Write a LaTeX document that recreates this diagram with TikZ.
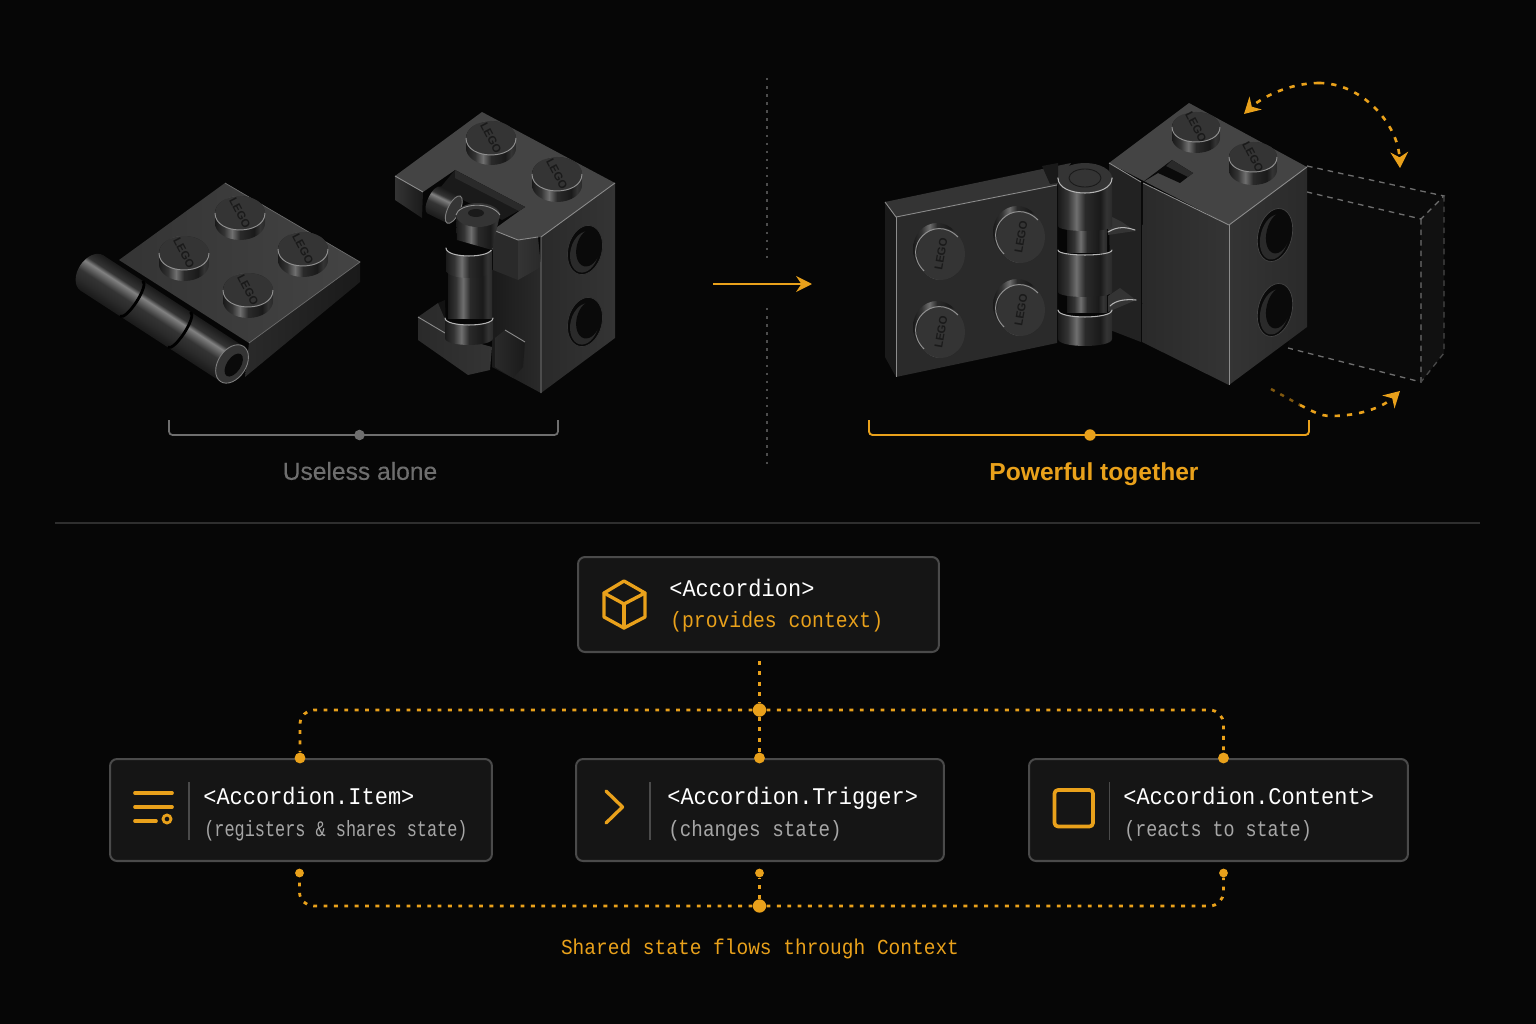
\documentclass[tikz,border=0pt]{standalone}
\usepackage{fontspec}
\usepackage{graphicx}
\setsansfont{Liberation Sans}
\setmonofont{Liberation Mono}
\usetikzlibrary{arrows.meta}
\definecolor{pagedark}{HTML}{060606}
\definecolor{amberline}{HTML}{E9A11B}
\definecolor{cardfill}{HTML}{151515}
\definecolor{cardedge}{HTML}{4A4A4A}
\definecolor{muteline}{HTML}{6E6E6E}
\definecolor{ruleline}{HTML}{2E2E2E}
\definecolor{subgrey}{HTML}{A6A6A6}
\definecolor{faceA}{HTML}{444444}
\definecolor{faceB}{HTML}{343434}
\definecolor{faceC}{HTML}{2A2A2A}
\definecolor{faceD}{HTML}{1A1A1A}
\definecolor{glint}{HTML}{B4B4B4}
\definecolor{hollow}{HTML}{0A0A0A}
\pgfdeclareverticalshading{barrelmetal}{100bp}{color(0bp)=(faceD);color(25bp)=(faceD);color(36bp)=(faceC);color(46bp)=(faceB);color(58bp)=(glint!72!black);color(63bp)=(faceB);color(75bp)=(faceD);color(100bp)=(faceD)}
\pgfdeclarehorizontalshading{studmetal}{100bp}{color(0bp)=(faceD);color(25bp)=(faceD);color(34bp)=(faceB);color(42bp)=(glint!62!black);color(50bp)=(faceC);color(64bp)=(faceD);color(70bp)=(faceB);color(75bp)=(faceC);color(100bp)=(faceC)}
\tikzset{
	cardbox/.style={draw=cardedge,fill=cardfill,line width=1.15pt,rounded corners=4pt,inner sep=0pt},
	tagtext/.style={anchor=base west,inner sep=0pt,text=white,font=\fontsize{13.6}{15}\ttfamily},
	subtext/.style={anchor=base west,inner sep=0pt,text=subgrey,font=\fontsize{12.6}{14}\ttfamily},
	flowline/.style={draw=amberline,line width=1.6pt,dash pattern=on 2.2pt off 3.7pt},
	junction/.style={circle,fill=amberline,inner sep=0pt,minimum size=6.2pt},
	hubdot/.style={circle,fill=amberline,inner sep=0pt,minimum size=7.6pt},
	tickdot/.style={circle,fill=amberline,inner sep=0pt,minimum size=5pt},
	iconline/.style={draw=amberline,line width=1.9pt,line cap=round,line join=round},
	cardrule/.style={draw=cardedge,line width=0.8pt},
	orbitarrow/.style={draw=amberline,line width=1.5pt,dash pattern=on 3pt off 4pt,-{Stealth[length=9pt,width=10pt]}},
	ghostline/.style={draw=muteline,line width=0.75pt,dash pattern=on 3.2pt off 2.8pt},
	legotext/.style={inner sep=0pt,text=faceD,font=\fontsize{6.5}{7}\sffamily\bfseries},
	bodyedge/.style={draw=glint!78!black,line width=0.5pt,line join=round},
	ringedge/.style={draw=glint,line width=0.6pt,line cap=round}
}
\newcommand{\stud}[9]{%
	\foreach \t in {0,0.1,...,1.01} {
		\shade[shading=studmetal] ({#2+\t*#6},{#3+\t*#7}) ellipse [x radius=#4,y radius=#5];
	}
	\fill[faceB] (#2,#3) ellipse [x radius=#4,y radius=#5];
	\begin{scope}[shift={(#2,#3)},rotate=#9]
		\draw[glint!80!black,line width=0.55pt] ({-#4},0) .. controls ({-#4},{1.33*#5}) and (#4,{1.33*#5}) .. (#4,0);
	\end{scope}
	\node[legotext,rotate=#8] (#1) at (#2,#3) {LEGO};
}
\newcommand{\hingebarrel}[6]{%
	\begin{scope}[transform canvas={shift={(#1,#2)},rotate=#3}]
		\shade[shading=barrelmetal] (0,0) ellipse [x radius=#6,y radius=#5];
		\shade[shading=barrelmetal] (0,{-#5}) -- (#4,{-#5}) -- (#4,#5) -- (0,#5) -- cycle;
		\fill[faceB] (#4,0) ellipse [x radius=#6,y radius=#5];
		\draw[glint!70!black,line width=0.5pt] (#4,0) ellipse [x radius=#6,y radius=#5];
	\end{scope}
}
\newcommand{\barrelseam}[6]{%
	\begin{scope}[transform canvas={shift={(#1,#2)},rotate=#3}]
		\draw[black,line width=1.6pt] (#4,{-#5}) .. controls ({#4+1.33*#6},{-#5}) and ({#4+1.33*#6},#5) .. (#4,#5);
	\end{scope}
}
\newcommand{\knuckle}[5]{%
	\shade[shading=studmetal] ({#1-#4},#2) .. controls ({#1-#4},{#2+1.33*#5}) and ({#1+#4},{#2+1.33*#5}) .. ({#1+#4},#2) -- ({#1+#4},#3) .. controls ({#1+#4},{#3+1.33*#5}) and ({#1-#4},{#3+1.33*#5}) .. ({#1-#4},#3) -- cycle;
	\draw[ringedge] ({#1-#4},#2) .. controls ({#1-#4},{#2+1.33*#5}) and ({#1+#4},{#2+1.33*#5}) .. ({#1+#4},#2);
}
\newcommand{\brickhole}[5]{%
	\fill[hollow,rotate around={-14:(#1,#2)}] (#1,#2) ellipse [x radius=#3,y radius=#4];
	\fill[faceC,rotate around={-14:(#1,#2)}] (#1,#2+2) ellipse [x radius={#3-3},y radius={#4-4}];
	\fill[hollow,rotate around={-14:(#1,#2)}] (#1+3,#2-3) ellipse [x radius={#3-5},y radius={#4-6}];
	\draw[#5,line width=0.4pt,rotate around={-14:(#1,#2)}] (#1,#2) ellipse [x radius=#3,y radius=#4];
}
\begin{document}
\begin{tikzpicture}[x=0.02cm,y=-0.02cm]
	\fill[pagedark] (0,0) rectangle (1536,1024);
	\useasboundingbox (0,0) rectangle (1536,1024);

	% plate on the left
	\shade[left color=faceC,right color=faceD] (249,343) -- (360,262) -- (360,282) -- (245,377) -- cycle;
	\shade[left color=faceB,right color=faceA] (225,183) -- (360,262) -- (249,343) -- (119,260) -- cycle;
	\draw[glint!60!black,line width=0.4pt] (249,343) -- (360,262) -- (225,183);
	\hingebarrel{92}{273}{-33}{167}{21}{14}
	\barrelseam{92}{273}{-33}{47}{21}{6}
	\barrelseam{92}{273}{-33}{104}{21}{6}
	\begin{scope}[transform canvas={shift={(92,273)},rotate=-33}]
		\fill[hollow] (169,0) ellipse [x radius=7,y radius=13];
	\end{scope}
	\stud{platestudA}{240}{213}{25}{17}{0}{10}{-62}{0}
	\stud{platestudB}{184}{253}{25}{17}{0}{11}{-62}{0}
	\stud{platestudC}{303}{249}{25}{17}{0}{11}{-62}{0}
	\stud{platestudD}{248}{290}{25}{17}{0}{11}{-62}{0}

	% brick on the left
	\shade[left color=faceC,right color=faceB] (541,237) -- (615,183) -- (615,338) -- (541,393) -- cycle;
	\brickhole{585}{250}{17}{25}{faceB}
	\brickhole{585}{322}{17}{25}{faceB}
	\shade[left color=faceD,right color=faceC] (492,270) -- (541,262) -- (541,393) -- (513,378) -- (492,367) -- cycle;
	\fill[faceA] (482,112) -- (615,183) -- (541,237) -- (518,240) -- (493,230) -- (525,207) -- (455,170) -- (423,192) -- (395,176) -- cycle;
	\fill[faceD] (455,170) -- (525,207) -- (502,220) -- (440,188) -- cycle;
	\fill[faceC] (455,170) -- (525,207) -- (519,211) -- (455,178) -- cycle;
	\shade[left color=faceB,right color=faceD] (395,176) -- (423,192) -- (422,218) -- (395,200) -- cycle;
	\fill[faceC] (493,230) -- (518,240) -- (518,280) -- (493,270) -- cycle;
	\shade[left color=faceB,right color=faceC] (518,240) -- (538,237) -- (541,267) -- (518,280) -- cycle;
	\fill[faceD!70!black] (438,303) -- (445,300) -- (446,332) -- (430,322) -- cycle;
	\shade[left color=faceC,right color=faceB] (418,317) -- (438,303) -- (452,336) -- (492,347) -- (490,370) -- (468,375) -- (418,340) -- cycle;
	\draw[bodyedge] (418,317) -- (445,333);
	\draw[bodyedge] (423,192) -- (395,176);
	\draw[bodyedge] (615,183) -- (541,237) -- (541,393);
	\draw[bodyedge] (493,230) -- (518,240) -- (538,237);
	\shade[left color=faceC,right color=faceD] (495,338) -- (505,330) -- (525,342) -- (523,367) -- (513,378) -- (495,367) -- cycle;
	\draw[bodyedge] (505,330) -- (525,342);
	\shade[shading=studmetal] (448,270) rectangle (492,318);
	\knuckle{469}{248}{270}{23}{8}
	\knuckle{469}{318}{338}{24}{7}
	\hingebarrel{434}{200}{-26}{22}{15}{6}
	\shade[shading=studmetal] (456,215) -- (500,215) -- (492,250) -- (457,240) -- cycle;
	\fill[faceB] (478,215) ellipse [x radius=22,y radius=12];
	\draw[glint!80!black,line width=0.5pt] (456,215) .. controls (458,204) and (490,200) .. (500,215);
	\fill[faceD] (476,213) ellipse [x radius=8,y radius=4];
	\stud{brickstudA}{491}{138}{25}{17}{0}{10}{-62}{0}
	\stud{brickstudB}{557}{174}{25}{17}{0}{11}{-62}{0}

	% ghost of the open position
	\fill[hollow] (1307,166) -- (1444,196) -- (1444,353) -- (1421,382) -- (1288,348) -- cycle;
	\fill[faceD!55!pagedark] (1421,219) -- (1444,196) -- (1444,353) -- (1421,382) -- cycle;
	\draw[ghostline] (1307,166) -- (1444,196) -- (1421,219) -- (1307,192);
	\draw[ghostline] (1421,219) -- (1421,382) -- (1288,348);
	\draw[ghostline,draw=muteline!65!black] (1444,196) -- (1444,353) -- (1421,382);

	% hinge on the right
	\fill[faceD] (885,202) -- (896,217) -- (896,377) -- (885,357) -- cycle;
	\fill[faceB] (885,202) -- (1071,163) -- (1057,185) -- (896,217) -- cycle;
	\fill[faceC] (896,217) -- (1057,185) -- (1057,343) -- (896,377) -- cycle;
	\draw[bodyedge] (885,202) -- (896,217) -- (1057,185);
	\draw[bodyedge] (896,217) -- (896,377);
	\stud{facestudA}{941}{254}{24}{26}{-4}{-5}{80}{-135}
	\stud{facestudB}{1021}{237}{24}{26}{-4}{-5}{80}{-135}
	\stud{facestudC}{941}{332}{24}{26}{-4}{-5}{80}{-135}
	\stud{facestudD}{1021}{310}{24}{26}{-4}{-5}{80}{-135}
	\fill[faceC!80!black] (1109,163) -- (1141,182) -- (1141,342) -- (1110,330) -- cycle;
	\shade[left color=faceC,right color=faceB] (1143,183) -- (1229,225) -- (1229,385) -- (1142,342) -- cycle;
	\shade[left color=faceB,right color=faceC] (1229,225) -- (1307,167) -- (1307,327) -- (1229,385) -- cycle;
	\fill[faceA] (1189,103) -- (1307,167) -- (1229,225) -- (1109,163) -- cycle;
	\fill[hollow] (1172,160) -- (1193,173) -- (1180,183) -- (1158,173) -- (1143,182) -- cycle;
	\fill[faceC] (1172,160) -- (1193,173) -- (1188,177) -- (1166,166) -- cycle;
	\draw[bodyedge] (1109,163) -- (1141,182);
	\draw[bodyedge] (1143,183) -- (1229,225) -- (1307,167);
	\draw[bodyedge] (1229,225) -- (1229,385);
	\brickhole{1275}{235}{17}{27}{faceA}
	\brickhole{1275}{310}{17}{27}{faceA}
	\stud{topstudA}{1196}{127}{24}{15}{0}{11}{-62}{0}
	\stud{topstudB}{1253}{157}{24}{15}{0}{13}{-62}{0}
	\fill[faceC!60!black] (1042,166) -- (1058,163) -- (1058,183) -- (1050,184) -- cycle;
	\fill[faceB] (1108,215) -- (1122,222) -- (1135,231) -- (1108,235) -- cycle;
	\draw[ringedge] (1108,232) .. controls (1118,226) and (1126,227) .. (1135,230);
	\fill[faceB] (1108,296) -- (1120,288) -- (1136,300) -- (1108,312) -- cycle;
	\draw[ringedge] (1110,306) .. controls (1116,300) and (1126,299) .. (1136,300);
	\shade[shading=studmetal] (1067,228) rectangle (1107,252);
	\shade[shading=studmetal] (1067,290) rectangle (1107,312);
	\knuckle{1085}{250}{292}{27}{5}
	\knuckle{1085}{310}{339}{27}{7}
	\knuckle{1085}{178}{226}{27}{5}
	\fill[faceB] (1085,178) ellipse [x radius=27,y radius=15];
	\draw[ringedge] (1058,178) .. controls (1058,198) and (1112,198) .. (1112,178);
	\draw[faceD,line width=0.5pt] (1085,178) ellipse [x radius=16,y radius=9];

	% movement arrows
	\coordinate (orbittopL) at (1244,114);
	\coordinate (orbittopM) at (1319,83);
	\coordinate (orbittopR) at (1400,168);
	\coordinate (orbitlowL) at (1271,389);
	\coordinate (orbitlowN) at (1300,405);
	\coordinate (orbitlowM) at (1331,416);
	\coordinate (orbitlowR) at (1400,391);
	\draw[orbitarrow] (orbittopM) .. controls (1362,83) and (1398,124) .. (orbittopR);
	\draw[orbitarrow] (orbittopM) .. controls (1290,83) and (1262,97) .. (orbittopL);
	\draw[amberline!55!black,line width=1.4pt,dash pattern=on 2.4pt off 3.6pt] (orbitlowL) -- (orbitlowN);
	\draw[orbitarrow] (orbitlowN) .. controls (1312,411) and (1320,416) .. (orbitlowM) .. controls (1358,416) and (1382,408) .. (orbitlowR);

	% brackets and titles
	\coordinate (aloneL) at (169,420);
	\coordinate (aloneR) at (558,420);
	\draw[muteline,line width=1pt,rounded corners=2pt] (aloneL) |- (359,435) -| (aloneR);
	\node[circle,fill=muteline,inner sep=0pt,minimum size=6pt] (alonedot) at (359.5,435) {};
	\node[text=muteline,inner sep=0pt,font=\fontsize{14}{16}\sffamily\addfontfeature{FakeBold=0.25}] (alonelabel) at (360,471) {Useless alone};
	\coordinate (togetherL) at (869,420);
	\coordinate (togetherR) at (1309,420);
	\draw[amberline,line width=1.1pt,rounded corners=2pt] (togetherL) |- (1090,435) -| (togetherR);
	\node[circle,fill=amberline,inner sep=0pt,minimum size=6.5pt] (togetherdot) at (1090,435) {};
	\node[text=amberline,inner sep=0pt,font=\fontsize{14}{16}\sffamily\bfseries] (togetherlabel) at (1094,474) {Powerful together};

	% middle of the top half
	\coordinate (splitA) at (767,78);
	\coordinate (splitB) at (767,258);
	\coordinate (splitC) at (767,308);
	\coordinate (splitD) at (767,468);
	\draw[muteline!70!black,line width=0.8pt,dash pattern=on 1.4pt off 3.2pt] (splitA) -- (splitB);
	\draw[muteline!70!black,line width=0.8pt,dash pattern=on 1.4pt off 3.2pt] (splitC) -- (splitD);
	\coordinate (stepL) at (713,284);
	\coordinate (stepR) at (812,284);
	\draw[amberline,line width=1.2pt,-{Stealth[length=9pt,width=9pt]}] (stepL) -- (stepR);
	\coordinate (ruleL) at (55,523);
	\coordinate (ruleR) at (1480,523);
	\draw[ruleline,line width=0.7pt] (ruleL) -- (ruleR);

	% cards
	\node[cardbox,minimum width=7.22cm,minimum height=1.9cm] (rootcard) at (758.5,604.5) {};
	\node[cardbox,minimum width=7.64cm,minimum height=2.04cm] (itemcard) at (301,810) {};
	\node[cardbox,minimum width=7.36cm,minimum height=2.04cm] (triggercard) at (760,810) {};
	\node[cardbox,minimum width=7.58cm,minimum height=2.04cm] (contentcard) at (1218.5,810) {};

	\node[tagtext] (roottag) at (669,596) {\scalebox{0.92}[1]{<Accordion>}};
	\node[subtext,text=amberline] (rootnote) at (670,627) {\scalebox{0.89}[1]{(provides context)}};
	\node[tagtext] (itemtag) at (203,804) {\scalebox{0.92}[1]{<Accordion.Item>}};
	\node[subtext] (itemnote) at (204,836) {\scalebox{0.762}[1]{(registers \& shares state)}};
	\node[tagtext] (triggertag) at (667,804) {\scalebox{0.92}[1]{<Accordion.Trigger>}};
	\node[subtext] (triggernote) at (668,836) {\scalebox{0.87}[1]{(changes state)}};
	\node[tagtext] (contenttag) at (1123,804) {\scalebox{0.92}[1]{<Accordion.Content>}};
	\node[subtext] (contentnote) at (1124,836) {\scalebox{0.83}[1]{(reacts to state)}};

	% icons
	\draw[iconline] (624,581) -- (645,593) -- (645,617) -- (624,628) -- (604,617) -- (604,593) -- cycle;
	\draw[iconline] (604,593) -- (624,604) -- (645,593);
	\draw[iconline] (624,604) -- (624,628);
	\draw[iconline,line width=2.1pt] (135,793) -- (172,793);
	\draw[iconline,line width=2.1pt] (135,807) -- (172,807);
	\draw[iconline,line width=2.1pt] (135,821) -- (156,821);
	\draw[amberline,line width=1.6pt] (167,819) circle (4);
	\draw[iconline] (606,791) -- (622.5,807) -- (606,823);
	\draw[iconline,line width=2.1pt,rounded corners=2pt] (1054.5,790) rectangle (1093,826.5);
	\draw[cardrule] (189,782) -- (189,840);
	\draw[cardrule] (650,782) -- (650,840);
	\draw[cardrule] (1109.5,782) -- (1109.5,840);

	% context wiring
	\node[hubdot] (hubtop) at (759.5,710) {};
	\node[junction] (itemtop) at (300,758) {};
	\node[junction] (triggertop) at (759.5,758) {};
	\node[junction] (contenttop) at (1223.5,758) {};
	\node[hubdot] (hubbase) at (759.5,906) {};
	\node[tickdot] (itemdrop) at (299.5,873) {};
	\node[tickdot] (triggerdrop) at (759.5,873) {};
	\node[tickdot] (contentdrop) at (1223.5,873) {};
	\draw[flowline,shorten <=4.5pt] (rootcard.south -| hubtop) -- (hubtop);
	\draw[flowline] (hubtop) -- (triggertop);
	\draw[flowline,rounded corners=8pt] (hubtop) -| (itemtop);
	\draw[flowline,rounded corners=8pt] (hubtop) -| (contenttop);
	\draw[flowline] (hubbase) -- (triggerdrop);
	\draw[flowline,rounded corners=8pt] (hubbase) -| (itemdrop);
	\draw[flowline,rounded corners=8pt] (hubbase) -| (contentdrop);
	\node[text=amberline,anchor=base,inner sep=0pt,font=\fontsize{12.2}{13}\ttfamily] (contextlabel) at (760,954) {\scalebox{0.91}[1]{Shared state flows through Context}};
\end{tikzpicture}
\end{document}
